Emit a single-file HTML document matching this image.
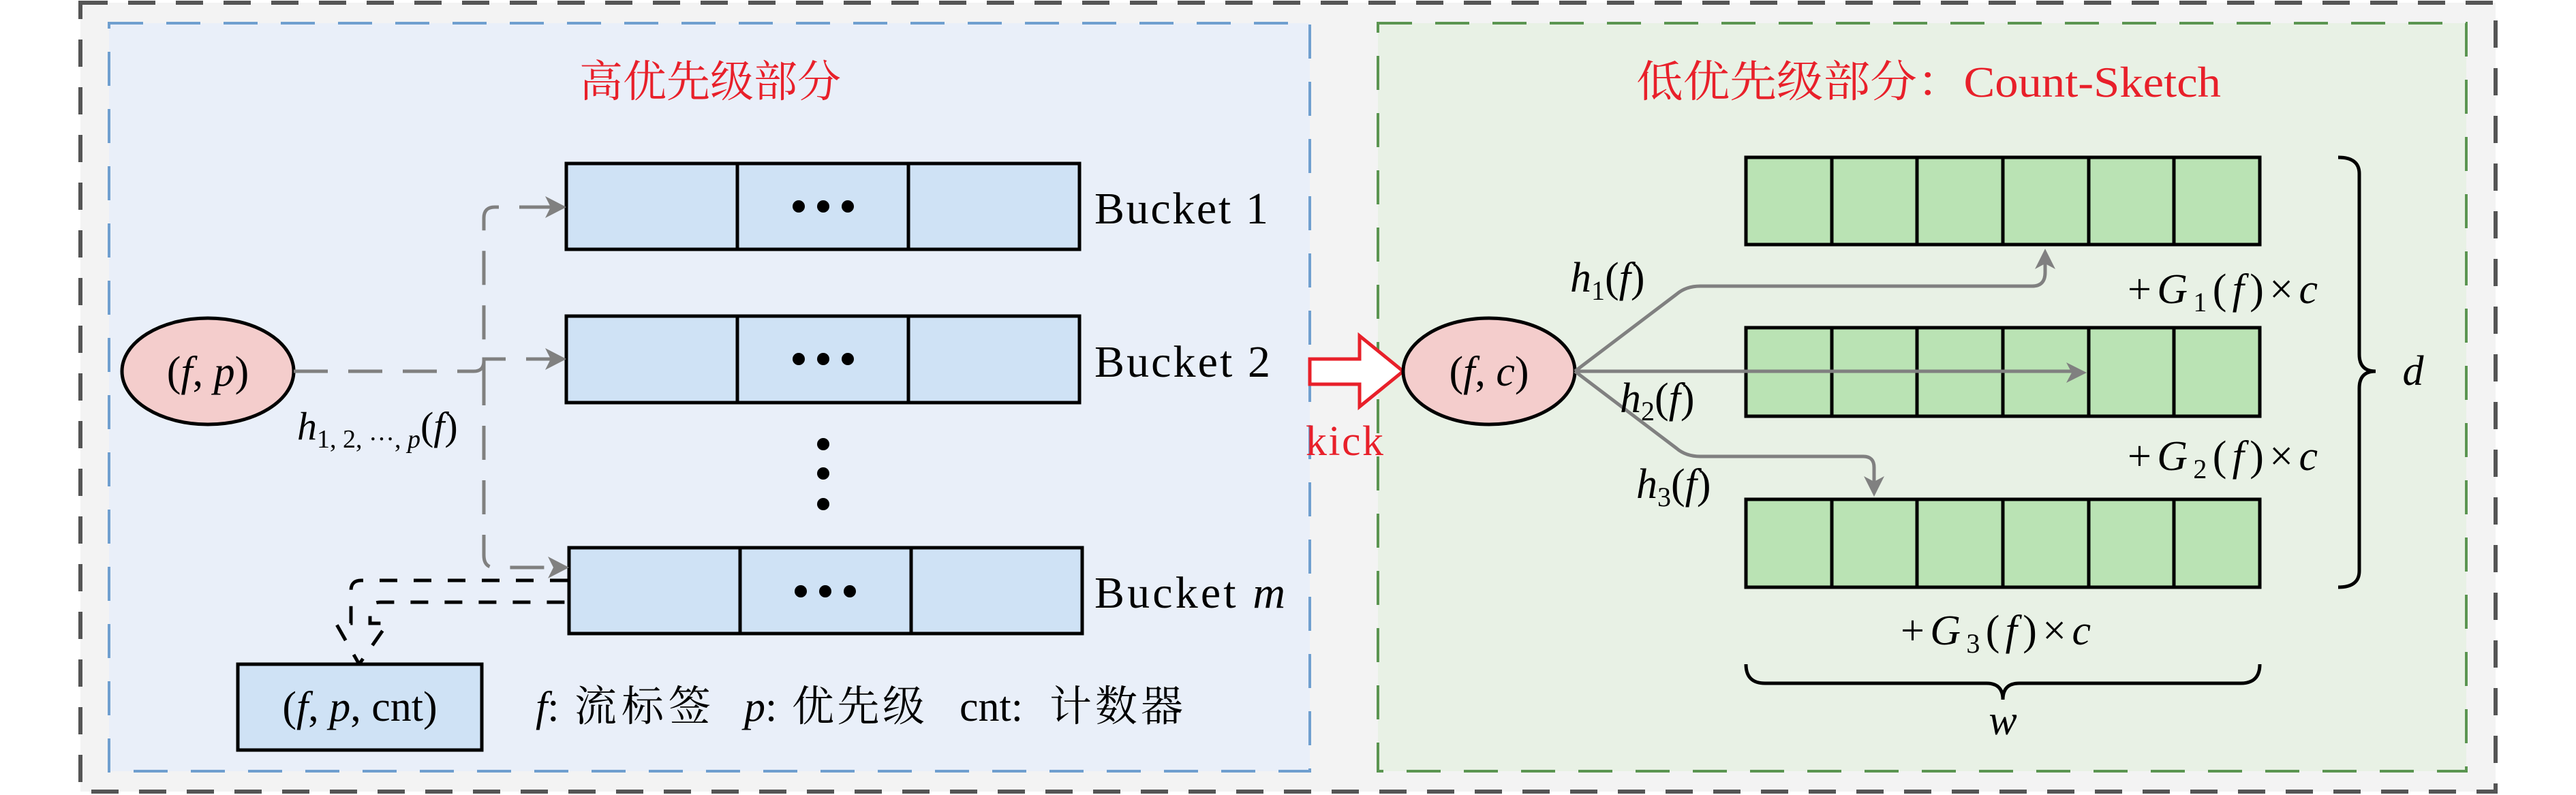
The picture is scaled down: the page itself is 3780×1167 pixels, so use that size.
<!DOCTYPE html>
<html><head><meta charset="utf-8"><style>
html,body{margin:0;padding:0;background:#fff;}
svg{display:block;}
</style></head><body>
<svg width="3780" height="1167" viewBox="0 0 3780 1167" xmlns="http://www.w3.org/2000/svg" font-family="Liberation Serif, Noto Serif CJK SC, serif">
<rect x="118" y="4" width="3544" height="1158" fill="#f3f3f3" stroke="#555" stroke-width="6" stroke-dasharray="40 30"/>
<rect x="160" y="34" width="1762" height="1098" fill="#e9eff9" stroke="#6f9fcf" stroke-width="4" stroke-dasharray="50 34"/>
<rect x="2022" y="34" width="1597" height="1098" fill="#e8f1e5" stroke="#5b9551" stroke-width="4" stroke-dasharray="50 34"/>

<text x="1042" y="142" font-size="64" fill="#e8202a" text-anchor="middle" font-family="Noto Serif CJK SC, serif">高优先级部分</text>
<text x="2401" y="142" font-size="64" fill="#e8202a" font-family="Liberation Serif, Noto Serif CJK SC, serif" textLength="858" lengthAdjust="spacingAndGlyphs"><tspan font-family="Noto Serif CJK SC, serif">低优先级部分：</tspan>Count-Sketch</text>

<g stroke="#000" stroke-width="5" fill="#cfe2f5">
<rect x="831" y="240" width="753" height="126"/><line x1="1082" y1="240" x2="1082" y2="366"/><line x1="1333" y1="240" x2="1333" y2="366"/>
<rect x="831" y="464" width="753" height="127"/><line x1="1082" y1="464" x2="1082" y2="591"/><line x1="1333" y1="464" x2="1333" y2="591"/>
<rect x="835" y="804" width="753" height="126"/><line x1="1086" y1="804" x2="1086" y2="930"/><line x1="1337" y1="804" x2="1337" y2="930"/>
</g>
<g fill="#000">
<circle cx="1172" cy="303" r="9"/><circle cx="1208" cy="303" r="9"/><circle cx="1244" cy="303" r="9"/>
<circle cx="1172" cy="527" r="9"/><circle cx="1208" cy="527" r="9"/><circle cx="1244" cy="527" r="9"/>
<circle cx="1175" cy="868" r="9"/><circle cx="1211" cy="868" r="9"/><circle cx="1247" cy="868" r="9"/>
<circle cx="1208" cy="652" r="9"/><circle cx="1208" cy="695" r="9"/><circle cx="1208" cy="740" r="9"/>
</g>
<g font-size="66" fill="#000" font-family="Liberation Serif, serif">
<text x="1606" y="328" textLength="255">Bucket 1</text>
<text x="1606" y="553" textLength="258">Bucket 2</text>
<text x="1606" y="892" textLength="280">Bucket <tspan font-style="italic">m</tspan></text>
</g>

<ellipse cx="305" cy="545" rx="126" ry="78" fill="#f4cdcc" stroke="#000" stroke-width="5"/>
<text x="305" y="566" font-size="62" text-anchor="middle" font-family="Liberation Serif, serif">(<tspan font-style="italic">f</tspan>, <tspan font-style="italic">p</tspan>)</text>

<g stroke="#808080" stroke-width="5" fill="none" stroke-dasharray="50 30">
<path d="M431 545 H695 Q710 545 710 530 V320 Q710 304 726 304 H815"/>
<path d="M710 545 V527 H815"/>
<path d="M710 545 V815 Q710 833 726 833 H815"/>
</g>
<g fill="#808080">
<path d="M831 304 L800 288 L808 304 L800 320 Z"/>
<path d="M831 527 L800 511 L808 527 L800 543 Z"/>
<path d="M835 833 L804 817 L812 833 L804 849 Z"/>
</g>
<text x="436" y="645" font-size="58" font-style="italic" font-family="Liberation Serif, serif">h<tspan font-size="38" dy="12" font-style="normal">1, 2, ···, </tspan><tspan font-size="38">p</tspan><tspan dy="-12" font-style="normal">(</tspan>f<tspan font-style="normal">)</tspan></text>

<path d="M833 852 H530 Q515 852 515 867 V915 H493 L527 975 L569 915 H543 V899 Q543 884 558 884 H833" fill="none" stroke="#000" stroke-width="5" stroke-dasharray="26 24"/>

<rect x="349" y="975" width="358" height="126" fill="#cfe2f5" stroke="#000" stroke-width="5"/>
<text x="528" y="1058" font-size="62" text-anchor="middle" font-family="Liberation Serif, serif">(<tspan font-style="italic">f</tspan>, <tspan font-style="italic">p</tspan>, cnt)</text>
<g font-size="62" font-family="Liberation Serif, Noto Serif CJK SC, serif">
<text x="786" y="1058"><tspan font-style="italic">f</tspan>:</text>
<text x="843" y="1058" font-family="Noto Serif CJK SC, serif" textLength="200">流标签</text>
<text x="1092" y="1058"><tspan font-style="italic">p</tspan>:</text>
<text x="1162" y="1058" font-family="Noto Serif CJK SC, serif" textLength="195">优先级</text>
<text x="1408" y="1058">cnt:</text>
<text x="1540" y="1058" font-family="Noto Serif CJK SC, serif" textLength="196">计数器</text>
</g>

<path d="M1922 527 H1995 V493 L2059 545 L1995 597 V564 H1922 Z" fill="#fff" stroke="#e8202a" stroke-width="5"/>
<text x="1916" y="668" font-size="62" fill="#e8202a" font-family="Liberation Serif, serif" textLength="114">kick</text>

<ellipse cx="2185" cy="545" rx="126" ry="78" fill="#f4cdcc" stroke="#000" stroke-width="5"/>
<text x="2185" y="566" font-size="62" text-anchor="middle" font-family="Liberation Serif, serif">(<tspan font-style="italic">f</tspan>, <tspan font-style="italic">c</tspan>)</text>

<g stroke="#000" stroke-width="5" fill="#bae3b4">
<rect x="2562" y="231" width="754" height="128"/>
<rect x="2562" y="481" width="754" height="130"/>
<rect x="2562" y="733" width="754" height="129"/>
</g>
<g stroke="#000" stroke-width="5">
<path d="M2688 231V359M2813 231V359M2939 231V359M3065 231V359M3190 231V359"/>
<path d="M2688 481V611M2813 481V611M2939 481V611M3065 481V611M3190 481V611"/>
<path d="M2688 733V862M2813 733V862M2939 733V862M3065 733V862M3190 733V862"/>
</g>

<g stroke="#808080" stroke-width="5" fill="none">
<path d="M2311 545 L2460 432 Q2474 420 2495 420 H2982 Q3001 420 3001 400 V380"/>
<path d="M2311 545 H3042"/>
<path d="M2311 545 L2460 658 Q2474 670 2495 670 H2734 Q2750 670 2750 686 V712"/>
</g>
<g fill="#808080">
<path d="M3001 365 L2986 395 L3001 387 L3016 395 Z"/>
<path d="M3062 547 L3032 532 L3040 547 L3032 562 Z"/>
<path d="M2750 729 L2735 699 L2750 707 L2765 699 Z"/>
</g>
<g font-size="62" font-style="italic" font-family="Liberation Serif, serif">
<text x="2304" y="428">h<tspan font-size="40" dy="12" font-style="normal">1</tspan><tspan dy="-12" font-style="normal">(</tspan>f<tspan font-style="normal">)</tspan></text>
<text x="2377" y="605">h<tspan font-size="40" dy="12" font-style="normal">2</tspan><tspan dy="-12" font-style="normal">(</tspan>f<tspan font-style="normal">)</tspan></text>
<text x="2401" y="731">h<tspan font-size="40" dy="12" font-style="normal">3</tspan><tspan dy="-12" font-style="normal">(</tspan>f<tspan font-style="normal">)</tspan></text>
<text x="3122" y="445" textLength="279"><tspan font-style="normal">+</tspan>G<tspan font-size="40" dy="12" font-style="normal">1</tspan><tspan dy="-12" font-style="normal">(</tspan>f<tspan font-style="normal">)×</tspan>c</text>
<text x="3122" y="690" textLength="279"><tspan font-style="normal">+</tspan>G<tspan font-size="40" dy="12" font-style="normal">2</tspan><tspan dy="-12" font-style="normal">(</tspan>f<tspan font-style="normal">)×</tspan>c</text>
<text x="2789" y="946" textLength="279"><tspan font-style="normal">+</tspan>G<tspan font-size="40" dy="12" font-style="normal">3</tspan><tspan dy="-12" font-style="normal">(</tspan>f<tspan font-style="normal">)×</tspan>c</text>
<text x="3541" y="565" text-anchor="middle">d</text>
<text x="2939" y="1078" text-anchor="middle">w</text>
</g>

<g stroke="#000" stroke-width="5" fill="none">
<path d="M3431 231 Q3462 231 3462 255 V520 Q3462 545 3486 545 Q3462 545 3462 570 V838 Q3462 862 3431 862"/>
<path d="M2562 975 Q2562 1003 2590 1003 H2915 Q2939 1003 2939 1027 Q2939 1003 2963 1003 H3288 Q3316 1003 3316 975"/>
</g>
</svg>
</body></html>
